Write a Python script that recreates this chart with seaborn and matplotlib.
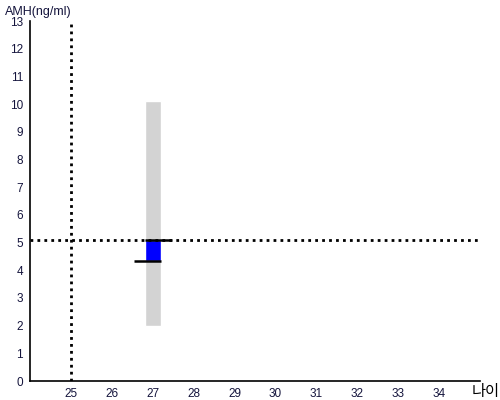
import numpy as np
import pandas as pd
import seaborn as sns
import matplotlib
matplotlib.use("Agg")
import matplotlib.pyplot as plt

# reference range (gray), measured range (blue) for age 27
age = [27]
ref_low = [2.0]
ref_high = [10.1]
amh_low = [4.35]
amh_high = [5.1]
cur_age = 25
cur_amh = 5.1
x_ticks = list(range(25, 35))
y_ticks = list(range(0, 14))

sns.set_style("white")
plt.rcParams['font.family'] = ['Liberation Sans', 'Noto Sans CJK KR', 'DejaVu Sans']
txt = '#14143c'

fig = plt.figure(figsize=(5, 4), dpi=100)
ax = fig.add_axes([0.06, 0.0475, 0.90, 0.9])

df = pd.DataFrame({'age': age, 'lo': ref_low, 'hi': ref_high,
                   'alo': amh_low, 'ahi': amh_high})

ax.bar(df['age'], df['hi'] - df['lo'], bottom=df['lo'], width=0.4,
       color='lightgray', zorder=1)
ax.bar(df['age'], df['ahi'] - df['alo'], bottom=df['alo'], width=0.4,
       color='#0000ff', zorder=2)
ax.hlines(df['alo'], df['age'] - 0.47, df['age'] + 0.2, color='black', lw=1.8, zorder=3)
ax.hlines(df['ahi'], df['age'] - 0.2, df['age'] + 0.48, color='black', lw=1.8, zorder=3)

ax.axvline(cur_age, color='black', ls=(0, (1, 1.5)), lw=2, zorder=4)
ax.axhline(cur_amh, color='black', ls=(0, (1, 1.5)), lw=2, zorder=4)

ax.set_xlim(24, 35)
ax.set_ylim(0, 13)
ax.set_xticks(x_ticks)
ax.set_yticks(y_ticks)
ax.tick_params(axis='both', length=4, width=1, direction='out', colors='black',
               labelcolor=txt, labelsize=8.5, pad=1)
sns.despine(ax=ax)
for s in ['left', 'bottom']:
    ax.spines[s].set_color('black')
    ax.spines[s].set_linewidth(1.2)

fig.text(0.01, 0.985, 'AMH(ng/ml)', color=txt, fontsize=9, va='top', ha='left')
fig.text(0.943, 0.0, '나이', color='black', fontsize=11, va='bottom', ha='left',
         family=['Noto Sans CJK KR'], fontweight='light')

fig.savefig('out.png', dpi=100)
